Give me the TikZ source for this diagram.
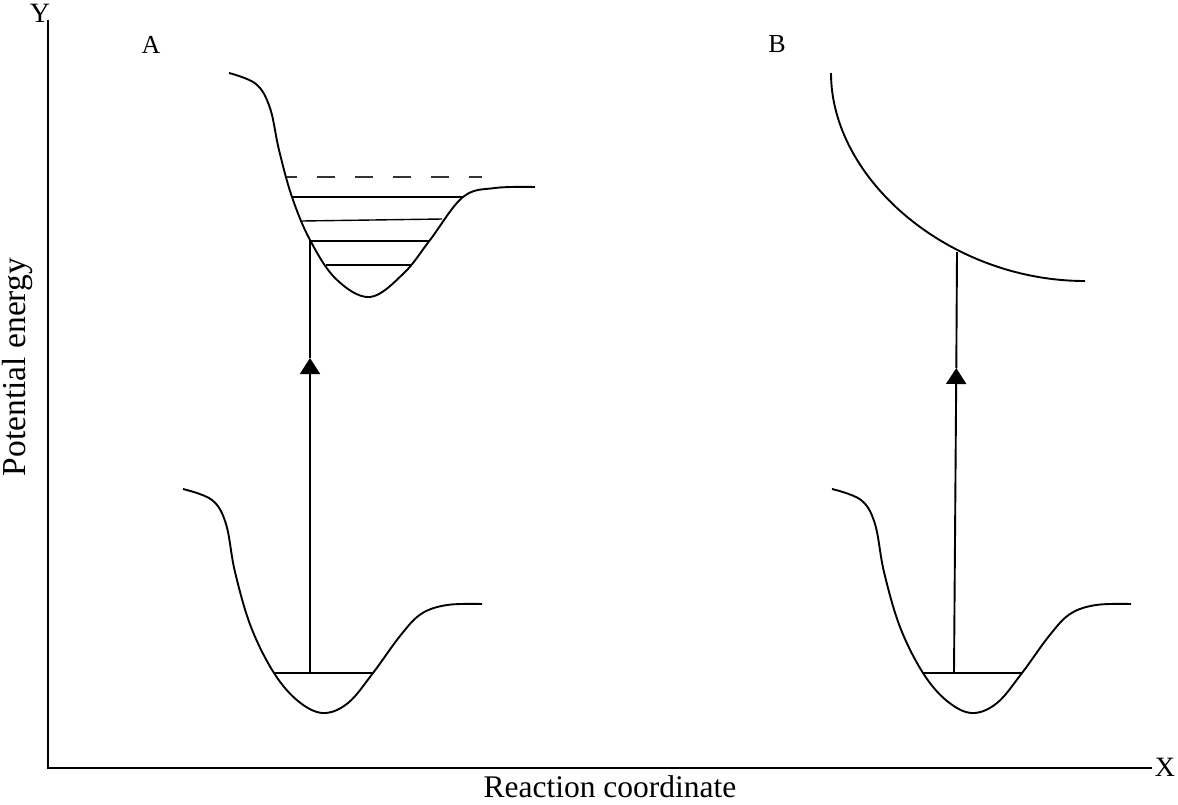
\documentclass[tikz,border=0pt]{standalone}
\usepackage{fontspec}
\setmainfont{Liberation Serif}
\usetikzlibrary{arrows.meta}
\tikzset{
  curve/.style={line width=1.9pt, line join=round},
  level/.style={line width=1.4pt},
  dashlevel/.style={line width=1.5pt, dash pattern=on 18pt off 20pt, dash phase=8pt, draw=black!80},
  axis/.style={line width=1.6pt},
  trans/.style={line width=1.9pt},
  transarrow/.style={line width=1.9pt, -{Triangle[width=20pt,length=16pt]}},
  pelab/.style={font=\fontsize{33.5}{33.5}\selectfont, inner sep=0pt},
  rclab/.style={font=\fontsize{31.5}{31.5}\selectfont, inner sep=0pt},
  panellab/.style={font=\fontsize{26}{26}\selectfont, inner sep=0pt},
  axlab/.style={font=\fontsize{28}{28}\selectfont, inner sep=0pt},
}
\begin{document}
\begin{tikzpicture}[x=1pt,y=-1pt]
\useasboundingbox (0,0) rectangle (1178,804);
% axes
\coordinate (O) at (48,768);
\coordinate (Ytop) at (48,20);
\coordinate (Xend) at (1152,768);
\draw[axis] (Ytop) -- (O) -- (Xend);
\node[axlab] (ylab) at (40,13) {Y};
\node[axlab] (xlab) at (1165,767) {X};
\node[panellab] (alab) at (151,45) {A};
\node[panellab] (blab) at (777,44) {B};
\node[pelab, rotate=90] (pe) at (17,367) {Potential energy};
\node[rclab, anchor=base] (rc) at (610,797) {Reaction coordinate};

% lower well A
\draw[curve] plot[smooth, tension=0.6] coordinates {
 (183,489) (212,500) (226,524) (235,572) (251,627) (274,673)
 (298,701) (323,713) (348,703) (373,673) (400,636) (421,614) (447,605) (482,604)};
\coordinate (gAl) at (274,673);
\coordinate (gAr) at (373,673);
\draw[level] (gAl) -- (gAr);

% upper well A
\draw[curve] plot[smooth, tension=0.6] coordinates {
 (229,73) (256,84) (270,108) (279,150) (292,197) (310,240)
 (336,279) (370,297) (404,273) (430,240) (463,197) (495,188) (535,187)};
\coordinate (d1) at (287,177);
\coordinate (d2) at (482,177);
\draw[dashlevel] (d1) -- (d2);
\coordinate (v1l) at (292,197); \coordinate (v1r) at (463,197);
\coordinate (v2l) at (302,221); \coordinate (v2r) at (442,219);
\coordinate (v3l) at (310,241); \coordinate (v3r) at (430,241);
\coordinate (v4l) at (326,265); \coordinate (v4r) at (411,265);
\draw[level] (v1l) -- (v1r);
\draw[level] (v2l) -- (v2r);
\draw[level] (v3l) -- (v3r);
\draw[level] (v4l) -- (v4r);

% transition A
\coordinate (tAb) at (310,673);
\coordinate (tAm) at (310,358);
\coordinate (tAt) at (310,240);
\draw[transarrow] (tAb) -- (tAm);
\draw[trans] (tAm) -- (tAt);

% lower well B
\draw[curve] plot[smooth, tension=0.6] coordinates {
 (832,489) (861,500) (875,524) (884,572) (900,627) (923,673)
 (947,701) (972,713) (997,703) (1022,673) (1049,636) (1070,614) (1096,605) (1131,604)};
\coordinate (gBl) at (923,673);
\coordinate (gBr) at (1022,673);
\draw[level] (gBl) -- (gBr);

% repulsive curve B
\coordinate (rB1) at (831,73);
\coordinate (rB2) at (1085,281);
\draw[curve] (rB1) .. controls (831,180) and (950,281) .. (rB2);

% transition B
\coordinate (tBb) at (954,673);
\coordinate (tBm) at (956.3,368);
\coordinate (tBt) at (957,252);
\draw[transarrow] (tBb) -- (tBm);
\draw[trans] (tBm) -- (tBt);
\end{tikzpicture}
\end{document}
